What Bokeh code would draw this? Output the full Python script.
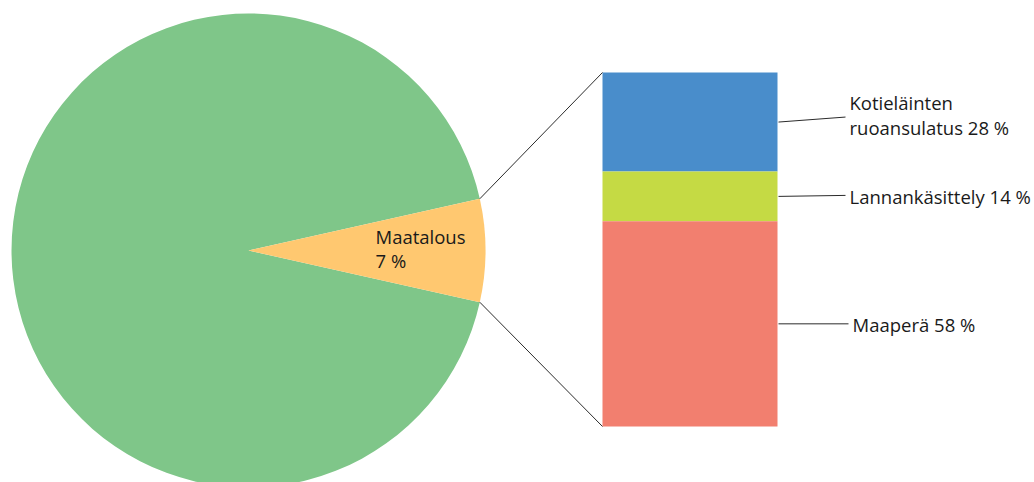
import math
from bokeh.plotting import figure
from bokeh.models import Range1d
from bokeh.core.properties import value
from bokeh.embed import file_html
from bokeh.resources import INLINE

# ---- data ----
pie_labels = ["Maatalous", "Muut"]
pie_values = [7, 93]
pie_colors = ["#FFC870", "#7FC689"]

bar_labels = ["Kotieläinten\nruoansulatus", "Lannankäsittely", "Maaperä"]
bar_values = [28, 14, 58]
bar_colors = ["#498DCB", "#C5DA44", "#F27F6F"]

FONT = "Open Sans"
FS = "18.5px"
LH = 0.97
W, H = 1034, 482
p = figure(width=W, height=H, output_backend="svg", toolbar_location=None,
           x_range=Range1d(0, W), y_range=Range1d(0, H),
           min_border=0, outline_line_color=None)
p.axis.visible = False
p.grid.visible = False
p.background_fill_color = "white"
p.border_fill_color = "white"

def Y(py):  # page pixel y -> data y
    return H - py

# pie
cx, cy, r = 248, Y(250), 237
total = sum(pie_values)
half = math.radians(pie_values[0] / total * 360 / 2)
p.wedge(x=[cx], y=[cy], radius=r, start_angle=[half], end_angle=[2 * math.pi - half],
        color=pie_colors[1], line_color=None)
p.wedge(x=[cx], y=[cy], radius=r, start_angle=[-half], end_angle=[half],
        color=pie_colors[0], line_color=None)
p.text(x=[375], y=[Y(248)], text=[f"{pie_labels[0]}\n{pie_values[0]} %"],
       text_font=value(FONT), text_font_size=FS, text_color="#1a1a1a",
       text_baseline="middle", text_align="left", text_line_height=LH)

# bar
bx0, bx1 = 602, 777
btop, bbot = Y(72), Y(426)
bh = btop - bbot
btotal = sum(bar_values)
tops, bots, mids = [], [], []
acc = 0
for v in bar_values:
    t = btop - acc / btotal * bh
    acc += v
    b = btop - acc / btotal * bh
    tops.append(t); bots.append(b); mids.append((t + b) / 2)
p.quad(left=bx0, right=bx1, top=tops, bottom=bots, color=bar_colors, line_color=None)

# connectors
ex = cx + r * math.cos(half)
p.line([ex, bx0], [cy + r * math.sin(half), btop], line_color="#2b2b2b", line_width=1)
p.line([ex, bx0], [cy - r * math.sin(half), bbot], line_color="#2b2b2b", line_width=1)

# labels with leaders
end_dy = [5, 1, 0]
end_x = [845, 845, 848]
text_dy = [2, -1, -1]
for i, (lab, v) in enumerate(zip(bar_labels, bar_values)):
    y0 = mids[i]
    y1 = mids[i] + end_dy[i]
    p.line([bx1 + 1, end_x[i]], [y0, y1], line_color="#2b2b2b", line_width=1)
    p.text(x=[end_x[i] + 4], y=[y1 + text_dy[i]], text=[f"{lab} {v} %"],
           text_font=value(FONT), text_font_size=FS, text_color="#1a1a1a",
           text_baseline="middle", text_align="left", text_line_height=LH)

open("out.html", "w").write(file_html(p, INLINE))
